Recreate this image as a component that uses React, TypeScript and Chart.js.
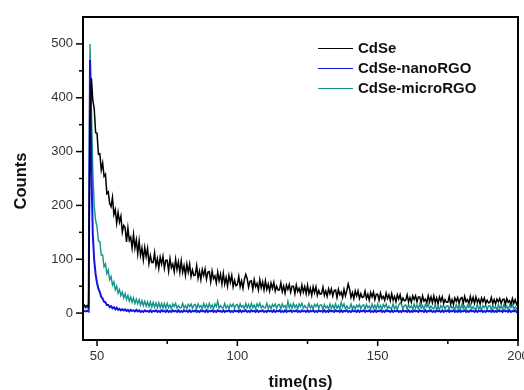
import React, { useEffect, useRef } from 'react';
import { Chart, registerables } from 'chart.js';

Chart.register(...registerables);

// time grid: first sample and spacing (ns)
const T_START = 45;
const T_STEP = 0.5;

// CdSe counts, one value per 0.5 ns from 45 ns to 200 ns
const cdseCounts = [
  13, 15, 12, 14, 12, 350, 436, 395, 380, 335,
  334, 295, 296, 266, 279, 254, 258, 222, 225, 204,
  198, 215, 183, 192, 167, 187, 169, 180, 150, 163,
  159, 132, 158, 135, 141, 121, 146, 121, 136, 110,
  134, 107, 121, 99, 122, 105, 120, 92, 107, 94,
  94, 112, 88, 101, 83, 104, 91, 105, 83, 98,
  98, 78, 101, 84, 91, 77, 100, 81, 95, 76,
  97, 76, 88, 70, 91, 76, 91, 68, 80, 70,
  71, 88, 65, 78, 62, 81, 70, 82, 63, 76,
  77, 58, 78, 64, 69, 56, 76, 60, 72, 54,
  74, 54, 66, 50, 70, 57, 70, 49, 61, 51,
  53, 68, 49, 60, 46, 63, 72, 64, 48, 59,
  60, 44, 62, 49, 55, 43, 62, 47, 58, 43,
  60, 44, 54, 41, 56, 46, 57, 41, 50, 43,
  43, 56, 40, 50, 37, 52, 44, 53, 39, 50,
  50, 36, 52, 40, 46, 36, 52, 39, 49, 36,
  52, 36, 46, 33, 49, 38, 49, 33, 42, 35,
  36, 48, 33, 41, 31, 45, 36, 45, 32, 42,
  43, 29, 44, 34, 39, 29, 44, 32, 42, 54,
  44, 29, 38, 27, 41, 32, 41, 27, 36, 29,
  30, 41, 27, 35, 24, 38, 30, 39, 25, 35,
  35, 24, 37, 27, 31, 24, 37, 27, 34, 23,
  36, 24, 31, 21, 34, 26, 34, 21, 28, 23,
  24, 34, 21, 29, 20, 32, 25, 32, 21, 30,
  30, 19, 32, 22, 26, 19, 32, 21, 30, 19,
  32, 20, 28, 17, 30, 22, 30, 18, 25, 20,
  20, 31, 17, 25, 16, 28, 22, 29, 18, 27,
  29, 18, 31, 21, 25, 18, 31, 20, 29, 18,
  30, 20, 26, 17, 28, 21, 28, 18, 24, 19,
  20, 29, 18, 25, 17, 26, 21, 27, 18, 25,
  26, 16, 27, 20, 23, 16, 27, 18, 25, 16,
  21,
];

// CdSe-nanoRGO counts
const nanoCounts = [
  3, 4, 3, 4, 3, 470, 265, 145, 98, 72,
  56, 45, 39, 30, 27, 21, 20, 15, 15, 11,
  13, 9, 11, 7, 10, 6, 8, 5, 7, 5,
  7, 4, 6, 3, 6, 4, 5, 3, 6, 3,
  5, 2, 4, 2, 5, 3, 4, 2, 5, 2,
  4, 3, 5, 2, 4, 2, 5, 3, 4, 2,
  5, 2, 4, 2, 5, 3, 4, 2, 5, 2,
  4, 2, 5, 3, 4, 2, 5, 2, 4, 3,
  5, 2, 4, 2, 5, 3, 4, 2, 5, 2,
  4, 3, 5, 2, 4, 2, 5, 3, 4, 2,
  5, 2, 4, 3, 5, 2, 4, 2, 5, 3,
  4, 2, 5, 2, 4, 3, 5, 2, 4, 2,
  5, 3, 4, 2, 5, 2, 4, 3, 5, 2,
  4, 2, 5, 3, 4, 2, 5, 2, 4, 3,
  5, 2, 4, 2, 5, 2, 4, 3, 5, 2,
  4, 3, 5, 2, 4, 2, 5, 3, 4, 2,
  5, 2, 4, 3, 5, 2, 4, 2, 5, 3,
  4, 2, 5, 2, 4, 2, 5, 3, 4, 2,
  5, 3, 4, 2, 5, 2, 4, 3, 5, 2,
  4, 2, 5, 3, 4, 2, 5, 2, 4, 3,
  5, 2, 4, 3, 5, 2, 4, 2, 5, 2,
  4, 3, 5, 2, 4, 2, 5, 3, 4, 2,
  5, 2, 4, 3, 5, 2, 4, 2, 5, 3,
  4, 2, 5, 2, 4, 2, 5, 3, 4, 2,
  5, 3, 4, 2, 5, 2, 4, 3, 5, 2,
  4, 2, 5, 3, 4, 2, 5, 2, 4, 3,
  5, 2, 4, 3, 5, 2, 4, 2, 5, 2,
  4, 3, 5, 2, 4, 2, 5, 3, 4, 2,
  5, 2, 4, 3, 5, 2, 4, 2, 5, 3,
  4, 2, 5, 2, 4, 2, 5, 3, 4, 2,
  5, 3, 4, 2, 5, 2, 4, 3, 5, 2,
  3,
];

// CdSe-microRGO counts
const microCounts = [
  10, 12, 9, 11, 10, 500, 380, 262, 198, 172,
  160, 134, 133, 108, 108, 86, 91, 73, 80, 62,
  68, 52, 58, 43, 50, 37, 44, 32, 39, 28,
  36, 25, 33, 22, 30, 20, 28, 18, 26, 17,
  25, 15, 23, 14, 22, 13, 21, 12, 21, 11,
  20, 11, 19, 10, 19, 10, 18, 9, 18, 9,
  18, 10, 15, 8, 17, 12, 18, 9, 14, 10,
  10, 18, 9, 14, 8, 16, 12, 17, 9, 15,
  16, 8, 17, 11, 14, 8, 18, 10, 16, 9,
  18, 10, 15, 8, 17, 12, 22, 9, 14, 10,
  10, 18, 9, 14, 8, 16, 12, 17, 9, 15,
  16, 8, 17, 11, 14, 8, 18, 10, 16, 9,
  18, 10, 15, 8, 17, 12, 18, 9, 14, 10,
  10, 18, 9, 14, 8, 16, 12, 17, 9, 15,
  16, 8, 17, 11, 14, 8, 22, 10, 16, 9,
  18, 10, 15, 8, 17, 12, 18, 9, 14, 10,
  10, 18, 9, 14, 8, 16, 12, 17, 9, 15,
  15, 7, 16, 10, 13, 7, 17, 9, 15, 8,
  17, 9, 14, 7, 20, 11, 17, 8, 13, 9,
  9, 17, 8, 13, 7, 15, 11, 16, 8, 14,
  15, 7, 16, 10, 13, 7, 17, 9, 15, 8,
  17, 9, 14, 7, 16, 11, 17, 8, 13, 9,
  9, 17, 8, 13, 7, 15, 19, 16, 8, 14,
  15, 7, 16, 10, 13, 7, 17, 9, 15, 8,
  17, 9, 14, 7, 16, 11, 17, 8, 13, 9,
  8, 16, 7, 12, 6, 14, 10, 15, 7, 13,
  14, 6, 15, 9, 12, 6, 16, 8, 14, 7,
  16, 8, 13, 6, 15, 10, 16, 7, 12, 8,
  8, 16, 7, 12, 6, 14, 10, 15, 7, 13,
  14, 6, 15, 9, 12, 6, 16, 8, 14, 7,
  16, 8, 13, 6, 15, 10, 16, 7, 12, 8,
  11,
];

const seriesNames = ['CdSe', 'CdSe-nanoRGO', 'CdSe-microRGO'];
const seriesColors = ['#000000', '#1414e0', '#12948a'];
const seriesWidths = [1.5, 2, 1.4];
const seriesValues = [cdseCounts, nanoCounts, microCounts];

const xMajorTicks = [50, 100, 150, 200];
const xMinorTicks = [75, 125, 175];
const yMajorTicks = [0, 100, 200, 300, 400, 500];
const yMinorTicks = [50, 150, 250, 350, 450];

const X_MIN = 45;
const X_MAX = 200;
const Y_MIN = -50;
const Y_MAX = 550;

const FONT = '"Liberation Sans", Arial, Helvetica, sans-serif';

const decorPlugin = {
  id: 'decor',
  afterDraw(chart: any) {
    const ctx = chart.ctx as CanvasRenderingContext2D;
    const { left, right, top, bottom } = chart.chartArea;
    const xs = chart.scales.x;
    const ys = chart.scales.y;
    ctx.save();

    // frame
    ctx.strokeStyle = '#000';
    ctx.lineWidth = 2;
    ctx.strokeRect(left, top, right - left, bottom - top);

    // tick marks
    ctx.lineWidth = 1.5;
    const seg = (x1: number, y1: number, x2: number, y2: number) => {
      ctx.beginPath();
      ctx.moveTo(x1, y1);
      ctx.lineTo(x2, y2);
      ctx.stroke();
    };
    xMajorTicks.forEach((v) => {
      const px = xs.getPixelForValue(v);
      seg(px, bottom, px, bottom + 6);
    });
    xMinorTicks.forEach((v) => {
      const px = xs.getPixelForValue(v);
      seg(px, bottom, px, bottom + 4);
    });
    yMajorTicks.forEach((v) => {
      const py = ys.getPixelForValue(v);
      seg(left, py, left - 7, py);
    });
    yMinorTicks.forEach((v) => {
      const py = ys.getPixelForValue(v);
      seg(left, py, left - 4, py);
    });

    // tick labels
    ctx.fillStyle = '#333';
    ctx.font = `13px ${FONT}`;
    ctx.textAlign = 'center';
    ctx.textBaseline = 'top';
    xMajorTicks.forEach((v) => {
      ctx.fillText(String(v), xs.getPixelForValue(v), bottom + 10);
    });
    ctx.textAlign = 'right';
    ctx.textBaseline = 'middle';
    yMajorTicks.forEach((v) => {
      ctx.fillText(String(v), left - 10, ys.getPixelForValue(v));
    });

    // axis titles
    ctx.fillStyle = '#111';
    ctx.font = `bold 16.5px ${FONT}`;
    ctx.textAlign = 'center';
    ctx.textBaseline = 'middle';
    ctx.fillText('time(ns)', (left + right) / 2, 382);
    ctx.save();
    ctx.translate(21, 181);
    ctx.rotate(-Math.PI / 2);
    ctx.fillText('Counts', 0, 0);
    ctx.restore();

    // legend
    ctx.font = `bold 15px ${FONT}`;
    ctx.textAlign = 'left';
    ctx.textBaseline = 'middle';
    seriesNames.forEach((name, i) => {
      const y = 48 + i * 20;
      ctx.strokeStyle = seriesColors[i];
      ctx.lineWidth = 1;
      seg(318, y + 0.5, 353, y + 0.5);
      ctx.fillStyle = '#111';
      ctx.fillText(name, 358, y + 1);
    });

    ctx.restore();
  },
};

export default function App() {
  const canvasRef = useRef<HTMLCanvasElement | null>(null);

  useEffect(() => {
    document.body.style.margin = '0';
    const canvas = canvasRef.current;
    if (!canvas) return;
    const datasets = seriesNames.map((name, i) => ({
      label: name,
      data: seriesValues[i].map((y, k) => ({ x: T_START + T_STEP * k, y })),
      borderColor: seriesColors[i],
      borderWidth: seriesWidths[i],
      pointRadius: 0,
      fill: false,
      tension: 0,
    }));
    const chart = new Chart(canvas, {
      type: 'line',
      data: { datasets },
      options: {
        responsive: false,
        animation: false,
        devicePixelRatio: 1,
        layout: { padding: { left: 83, top: 17, right: 6, bottom: 50 } },
        plugins: { legend: { display: false }, tooltip: { enabled: false } },
        scales: {
          x: { type: 'linear', min: X_MIN, max: X_MAX, display: false },
          y: { type: 'linear', min: Y_MIN, max: Y_MAX, display: false },
        },
      },
      plugins: [decorPlugin],
    });
    return () => chart.destroy();
  }, []);

  return <canvas ref={canvasRef} width={524} height={390} style={{ display: 'block' }} />;
}
